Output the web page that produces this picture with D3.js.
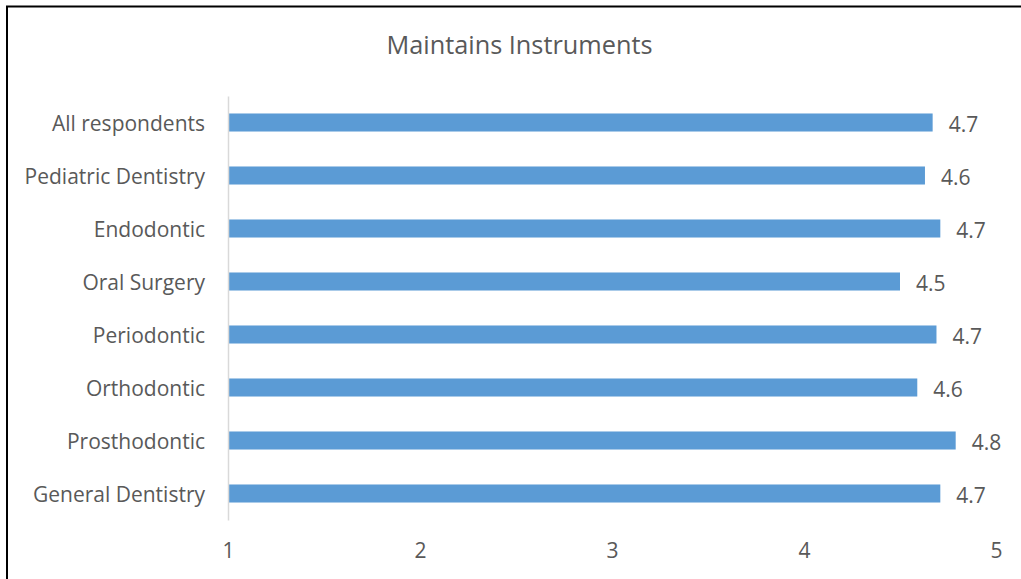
<!DOCTYPE html>
<html>
<head>
<meta charset="utf-8">
<script src="https://cdn.jsdelivr.net/npm/d3@7"></script>
<style>
  html, body { margin: 0; padding: 0; background: #fff; }
  svg { display: block; }
</style>
</head>
<body>
<div id="chart"></div>
<script>
const title = "Maintains Instruments";
const categories = ["All respondents", "Pediatric Dentistry", "Endodontic", "Oral Surgery",
                    "Periodontic", "Orthodontic", "Prosthodontic", "General Dentistry"];
const values = [4.67, 4.63, 4.71, 4.50, 4.69, 4.59, 4.79, 4.71];
const xTicks = [1, 2, 3, 4, 5];

const W = 1021, H = 579;
const font = "'Open Sans', 'DejaVu Sans', sans-serif";
const textColor = "#595959";
const barColor = "#5B9BD5";

const svg = d3.select("#chart").append("svg")
  .attr("width", W).attr("height", H);

svg.append("rect").attr("width", W).attr("height", H).attr("fill", "#fff");

// outer frame (top and left edges visible)
svg.append("path")
  .attr("d", `M7,${H} V6.5 H${W}`)
  .attr("fill", "none").attr("stroke", "#000").attr("stroke-width", 2);

const x = d3.scaleLinear().domain([1, 5]).range([228, 996]);
const y = d3.scaleBand().domain(categories).range([96, 520])
  .paddingInner(0.66).paddingOuter(0.33);

// title
svg.append("text")
  .attr("x", 519.5).attr("y", 45).attr("dy", "0.35em")
  .attr("text-anchor", "middle")
  .attr("font-family", font).attr("font-size", 25.3)
  .attr("fill", textColor)
  .text(title);

// bars
svg.append("g").selectAll("rect")
  .data(categories)
  .join("rect")
  .attr("x", x(1))
  .attr("y", d => y(d))
  .attr("width", (d, i) => x(values[i]) - x(1))
  .attr("height", y.bandwidth())
  .attr("fill", barColor);

// value labels
svg.append("g").selectAll("text")
  .data(categories)
  .join("text")
  .attr("x", (d, i) => x(values[i]) + 16)
  .attr("y", d => y(d) + y.bandwidth() / 2)
  .attr("dy", "0.43em")
  .attr("font-family", font).attr("font-size", 21)
  .attr("fill", textColor)
  .text((d, i) => d3.format(".1f")(values[i]));

// y axis (category axis)
const yAxis = svg.append("g")
  .attr("transform", `translate(${x(1)},0)`)
  .call(d3.axisLeft(y).tickSize(0).tickPadding(23));
yAxis.select(".domain").attr("stroke", "#D9D9D9").attr("stroke-width", 1.5);
yAxis.selectAll("text")
  .attr("dy", "0.4em")
  .attr("font-family", font).attr("font-size", 21).attr("fill", textColor);

// x axis (value axis, labels only)
const xAxis = svg.append("g")
  .attr("transform", `translate(0,520)`)
  .call(d3.axisBottom(x).tickValues(xTicks).tickSize(0).tickPadding(23).tickFormat(d3.format("d")));
xAxis.select(".domain").remove();
xAxis.selectAll("text")
  .attr("font-family", font).attr("font-size", 21).attr("fill", textColor);
</script>
</body>
</html>
